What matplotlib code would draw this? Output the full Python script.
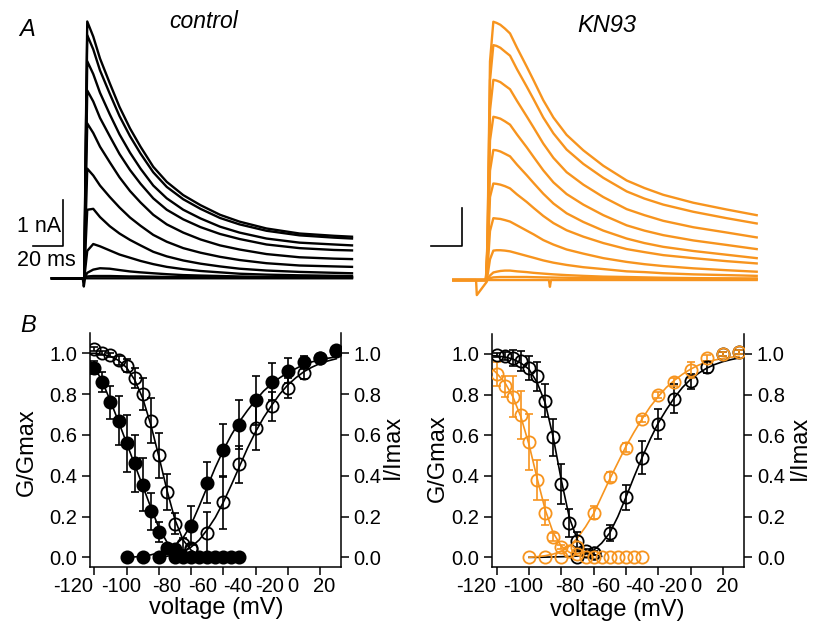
import matplotlib
matplotlib.use('Agg')
import matplotlib.pyplot as plt
from matplotlib.transforms import ScaledTranslation

plt.rcParams['font.family'] = ['Liberation Sans', 'DejaVu Sans']

ORANGE = '#F7941E'

# ---- panel A: current traces (time in ms, current in nA) ----
ctrl_t = [0, 21.5, 22.5, 23.5, 27.5, 32, 38.5, 45, 52, 59, 67.5, 76.5, 87.5, 99, 112, 125, 143, 165, 188, 200]
ctrl_traces = [
    [0, 0, 3.1, 5.62, 5.29, 4.81, 4.27, 3.75, 3.28, 2.88, 2.44, 2.11, 1.82, 1.60, 1.39, 1.24, 1.09, 0.98, 0.93, 0.91],
    [0, 0, 2.9, 5.32, 5.01, 4.55, 4.04, 3.55, 3.11, 2.73, 2.32, 2.00, 1.73, 1.52, 1.32, 1.18, 1.04, 0.94, 0.89, 0.87],
    [0, 0, 2.6, 4.75, 4.47, 4.06, 3.59, 3.15, 2.75, 2.40, 2.03, 1.75, 1.50, 1.31, 1.13, 1.00, 0.87, 0.78, 0.74, 0.72],
    [0, 0, 2.3, 4.11, 3.87, 3.51, 3.11, 2.72, 2.37, 2.07, 1.75, 1.50, 1.29, 1.12, 0.97, 0.86, 0.74, 0.66, 0.62, 0.61],
    [0, 0, 1.9, 3.39, 3.18, 2.88, 2.54, 2.21, 1.91, 1.66, 1.39, 1.18, 1.00, 0.85, 0.72, 0.63, 0.53, 0.46, 0.43, 0.42],
    [0, 0, 1.3, 2.40, 2.25, 2.03, 1.78, 1.55, 1.33, 1.15, 0.95, 0.80, 0.66, 0.56, 0.47, 0.40, 0.33, 0.28, 0.26, 0.25],
    [0, 0, 0.8, 1.50, 1.52, 1.34, 1.14, 0.98, 0.84, 0.72, 0.58, 0.48, 0.39, 0.32, 0.26, 0.21, 0.17, 0.14, 0.12, 0.11],
    [0, 0, 0.3, 0.60, 0.75, 0.70, 0.61, 0.52, 0.45, 0.38, 0.31, 0.25, 0.20, 0.16, 0.13, 0.10, 0.08, 0.065, 0.055, 0.05],
    [0, 0, 0.06, 0.12, 0.19, 0.22, 0.21, 0.18, 0.15, 0.13, 0.11, 0.09, 0.07, 0.06, 0.05, 0.04, 0.03, 0.025, 0.02, 0.02],
    [0, 0, 0.02, 0.04, 0.05, 0.05, 0.05, 0.045, 0.04, 0.04, 0.035, 0.03, 0.03, 0.03, 0.025, 0.02, 0.02, 0.02, 0.02, 0.02],
]
ctrl_base_t = [0, 20.5, 21.2, 22, 200]
ctrl_base_i = [0, 0, -0.18, 0, 0]

kn_t = [0, 21.5, 22.5, 24.2, 26.4, 28.5, 31, 34, 37.4, 42, 48.4, 53, 59.3, 66, 74.7, 85.7,
        98.9, 114.3, 126, 138.4, 158.2, 180.2, 200]
kn_traces = [
    [0, 0, 1.0, 5.8, 6.85, 6.82, 6.77, 6.67, 6.54, 6.16, 5.66, 5.29, 4.77, 4.31, 3.85, 3.44, 3.03, 2.64, 2.44, 2.26, 2.05, 1.87, 1.72],
    [0, 0, 0.9, 5.3, 6.23, 6.21, 6.16, 6.06, 5.95, 5.59, 5.13, 4.79, 4.31, 3.89, 3.46, 3.08, 2.71, 2.35, 2.16, 2.00, 1.81, 1.64, 1.50],
    [0, 0, 0.8, 4.5, 5.31, 5.29, 5.25, 5.16, 5.06, 4.75, 4.34, 4.04, 3.62, 3.24, 2.86, 2.53, 2.20, 1.88, 1.72, 1.57, 1.40, 1.26, 1.13],
    [0, 0, 0.65, 3.7, 4.33, 4.31, 4.28, 4.21, 4.12, 3.86, 3.52, 3.26, 2.91, 2.59, 2.28, 2.00, 1.72, 1.45, 1.31, 1.19, 1.05, 0.93, 0.82],
    [0, 0, 0.5, 2.9, 3.45, 3.44, 3.41, 3.35, 3.28, 3.06, 2.78, 2.57, 2.29, 2.03, 1.77, 1.54, 1.31, 1.10, 0.98, 0.88, 0.77, 0.67, 0.58],
    [0, 0, 0.4, 2.2, 2.56, 2.55, 2.53, 2.49, 2.43, 2.27, 2.07, 1.91, 1.70, 1.51, 1.32, 1.15, 0.98, 0.82, 0.74, 0.66, 0.58, 0.50, 0.44],
    [0, 0, 0.25, 1.3, 1.64, 1.63, 1.62, 1.59, 1.55, 1.45, 1.31, 1.21, 1.06, 0.94, 0.81, 0.70, 0.58, 0.48, 0.42, 0.37, 0.31, 0.26, 0.22],
    [0, 0, 0.1, 0.55, 0.78, 0.79, 0.79, 0.78, 0.76, 0.71, 0.64, 0.59, 0.52, 0.46, 0.40, 0.34, 0.29, 0.23, 0.21, 0.18, 0.15, 0.13, 0.11],
    [0, 0, 0.03, 0.12, 0.20, 0.22, 0.24, 0.25, 0.25, 0.23, 0.21, 0.19, 0.17, 0.15, 0.13, 0.11, 0.09, 0.08, 0.07, 0.06, 0.05, 0.045, 0.04],
    [0, 0, 0.02, 0.05, 0.07, 0.075, 0.08, 0.08, 0.08, 0.08, 0.08, 0.075, 0.07, 0.065, 0.06, 0.05, 0.05, 0.04, 0.04, 0.035, 0.03, 0.03, 0.03],
]
kn_base_t = [0, 15.0, 15.5, 22.0, 22.5, 63.0, 63.7, 64.4, 200]
kn_base_i = [0, 0, -0.4, -0.05, 0, 0, -0.18, 0, 0]

# ---- panel B: G/Gmax and I/Imax vs voltage ----
v_inact_full = [-120, -115, -110, -105, -100, -95, -90, -85, -80, -75, -70, -65, -60, -55, -50, -45, -40, -35, -30]
v_inact_short = [-120, -115, -110, -105, -100, -95, -90, -85, -80, -75, -70, -65, -60]
v_act_long = [-100, -90, -80, -70, -60, -50, -40, -30, -20, -10, 0, 10, 20, 30]
v_act_open = [-60, -50, -40, -30, -20, -10, 0, 10, 20, 30]
v_act_black = [-70, -60, -50, -40, -30, -20, -10, 0, 10, 20, 30]

# control: filled and open circles
ctrl_filled_inact = [0.93, 0.86, 0.76, 0.67, 0.56, 0.46, 0.355, 0.225, 0.125, 0.045, 0, 0, 0, 0, 0, 0, 0, 0, 0]
ctrl_filled_inact_err = [0.03, 0.05, 0.08, 0.12, 0.14, 0.14, 0.13, 0.09, 0.05, 0.02, 0, 0, 0, 0, 0, 0, 0, 0, 0]
ctrl_open_inact = [1.02, 1.0, 0.99, 0.965, 0.94, 0.88, 0.80, 0.67, 0.50, 0.32, 0.165, 0.065, 0.04]
ctrl_open_inact_err = [0.01, 0.01, 0.01, 0.02, 0.03, 0.05, 0.08, 0.11, 0.11, 0.09, 0.05, 0.03, 0]
ctrl_filled_act = [0, 0, 0, 0.04, 0.155, 0.365, 0.525, 0.65, 0.77, 0.86, 0.915, 0.955, 0.975, 1.015]
ctrl_filled_act_err = [0, 0, 0, 0.01, 0.095, 0.1, 0.13, 0.12, 0.12, 0.09, 0.06, 0.03, 0.01, 0.02]
ctrl_open_act = [0.045, 0.118, 0.27, 0.455, 0.635, 0.74, 0.83, 0.905, 0.975, 1.01]
ctrl_open_act_err = [0, 0.105, 0.13, 0.09, 0.11, 0.07, 0.05, 0.03, 0.01, 0.01]

# KN93 panel: black open and orange open circles
kn_black_inact = [0.995, 0.99, 0.98, 0.965, 0.93, 0.89, 0.77, 0.59, 0.36, 0.17, 0.08, 0.03, 0.02]
kn_black_inact_err = [0.01, 0.02, 0.04, 0.05, 0.06, 0.07, 0.08, 0.09, 0.1, 0.07, 0.045, 0.01, 0]
kn_black_act = [0.0, 0.02, 0.12, 0.295, 0.49, 0.655, 0.78, 0.865, 0.935, 1.0, 1.01]
kn_black_act_err = [0, 0.01, 0.04, 0.06, 0.08, 0.075, 0.07, 0.035, 0.03, 0.01, 0.01]
kn_orange_inact = [0.90, 0.84, 0.79, 0.70, 0.567, 0.38, 0.22, 0.10, 0.05, 0.03, 0.015, 0, 0, 0, 0, 0, 0, 0, 0]
kn_orange_inact_err = [0.06, 0.05, 0.1, 0.12, 0.14, 0.1, 0.06, 0.02, 0.01, 0, 0, 0, 0, 0, 0, 0, 0, 0, 0]
kn_orange_act = [0, 0, 0, 0.05, 0.22, 0.395, 0.54, 0.68, 0.80, 0.86, 0.92, 0.98, 1.0, 1.01]
kn_orange_act_err = [0, 0, 0, 0, 0.03, 0.025, 0.02, 0.015, 0.015, 0.02, 0.04, 0.015, 0.01, 0.01]

# fitted curves
fit_v_inact = [-122.5, -120, -115, -110, -105, -100, -95, -90, -85, -80, -75, -70, -65, -60, -55]
fit_v_act = [-100, -95, -90, -85, -80, -75, -70, -65, -60, -55, -50, -45, -40, -35, -30,
             -25, -20, -15, -10, -5, 0, 5, 10, 15, 20, 25, 30]
fit_ctrl_filled_inact = [0.96, 0.935, 0.86, 0.765, 0.665, 0.56, 0.455, 0.35, 0.245, 0.145, 0.075, 0.035, 0.015, 0.006]
fit_ctrl_open_inact = [1.0, 1.0, 0.995, 0.985, 0.965, 0.93, 0.87, 0.78, 0.65, 0.495, 0.33, 0.185, 0.085, 0.035, 0.012]
fit_ctrl_filled_act = [0.0, 0.002, 0.005, 0.012, 0.022, 0.038, 0.06, 0.095, 0.16, 0.25, 0.345, 0.44, 0.525, 0.6,
                       0.665, 0.72, 0.77, 0.815, 0.85, 0.88, 0.905, 0.925, 0.945, 0.958, 0.968, 0.976, 0.982]
fit_ctrl_open_act = [0.0, 0.005, 0.012, 0.025, 0.05, 0.085, 0.135, 0.195, 0.27, 0.355, 0.445, 0.535, 0.615,
                     0.685, 0.745, 0.8, 0.845, 0.88, 0.91, 0.932, 0.95, 0.963, 0.973]
fit_kn_black_inact = [0.992, 0.99, 0.985, 0.975, 0.955, 0.925, 0.86, 0.76, 0.59, 0.38, 0.195, 0.085, 0.035, 0.013, 0.005]
fit_kn_orange_inact = [0.925, 0.905, 0.86, 0.79, 0.69, 0.555, 0.39, 0.235, 0.12, 0.055, 0.025, 0.01, 0.004, 0.0]
fit_kn_black_act = [0.0, 0.0, 0.001, 0.002, 0.003, 0.004, 0.006, 0.015, 0.035, 0.07, 0.12, 0.2, 0.295, 0.395,
                    0.49, 0.58, 0.66, 0.725, 0.785, 0.835, 0.875, 0.905, 0.93, 0.948, 0.962, 0.972, 0.98]
fit_kn_orange_act = [0.0, 0.003, 0.008, 0.016, 0.03, 0.055, 0.095, 0.15, 0.215, 0.3, 0.385, 0.465, 0.545, 0.615,
                     0.68, 0.74, 0.79, 0.835, 0.87, 0.9, 0.925, 0.945, 0.96, 0.97, 0.978, 0.984, 0.988]

xticks = [-120, -100, -80, -60, -40, -20, 0, 20]
xtick_labels = ['-120', '-100', '-80', '-60', '-40', '-20', '0', '20']
xtick_shift_px = [-21, -5.5, 8, 12, 14, 14, 5, 4]   # labels are spread out in the original
yticks = [0.0, 0.2, 0.4, 0.6, 0.8, 1.0]
ytick_labels = ['0.0', '0.2', '0.4', '0.6', '0.8', '1.0']

W, H = 819, 625
fig = plt.figure(figsize=(W / 100, H / 100), dpi=100)


def px_axes(x0, y0, x1, y1):
    # axes from pixel box (top-left origin)
    return fig.add_axes([x0 / W, 1 - y1 / H, (x1 - x0) / W, (y1 - y0) / H])


# ---------- A: traces ----------
axA1 = px_axes(0, 0, 410, 300)
axA1.set_xlim(-34.67, 238.67)
axA1.set_ylim(-0.475, 6.09)
axA1.axis('off')
axA1.plot(ctrl_base_t, ctrl_base_i, color='black', lw=1.7)
for tr in ctrl_traces[::-1]:
    axA1.plot(ctrl_t, tr, color='black', lw=1.7, solid_joinstyle='round')
# scale bar 20 ms / 1 nA
sb_t, sb_i = 7.33, 0.713
axA1.plot([sb_t - 20, sb_t, sb_t], [sb_i, sb_i, sb_i + 1], color='black', lw=1.2)
axA1.text(sb_t - 1, sb_i + 0.42, '1 nA', ha='right', va='center', fontsize=15.5)
axA1.text(sb_t - 11, sb_i - 0.33, '20 ms', ha='center', va='center', fontsize=15.5)

axA2 = px_axes(410, 0, 819, 300)
axA2.set_xlim(-28.54, 241.07)
axA2.set_ylim(-0.53, 7.427)
axA2.axis('off')
axA2.plot(kn_base_t, kn_base_i, color=ORANGE, lw=1.7)
for tr in kn_traces[::-1]:
    axA2.plot(kn_t, tr, color=ORANGE, lw=1.7, solid_joinstyle='round')
sb2_t, sb2_i = 5.5, 0.90
axA2.plot([sb2_t - 20, sb2_t, sb2_t], [sb2_i, sb2_i, sb2_i + 1], color='black', lw=1.2)

fig.text(204 / W, 1 - 22 / H, 'control', ha='center', va='center', fontsize=16.5, style='italic')
fig.text(607 / W, 1 - 25 / H, 'KN93', ha='center', va='center', fontsize=17, style='italic')
fig.text(27 / W, 1 - 29 / H, 'A', ha='center', va='center', fontsize=17, style='italic')
fig.text(28 / W, 1 - 325 / H, 'B', ha='center', va='center', fontsize=17, style='italic')


# ---------- B: voltage dependence ----------
def style_axes(ax, xlim):
    ax.set_xlim(*xlim)
    ax.set_ylim(-0.046, 1.098)
    ax.spines['top'].set_visible(False)
    for s in ['left', 'right', 'bottom']:
        ax.spines[s].set_linewidth(1.1)
    ax.set_xticks(xticks)
    ax.set_xticklabels(xtick_labels)
    ax.set_yticks(yticks)
    ax.set_yticklabels(ytick_labels)
    ax.tick_params(axis='both', direction='out', length=5.5, width=1.1, labelsize=14.5)
    ax.tick_params(axis='x', pad=2)
    ax.tick_params(axis='y', left=True, right=True, labelleft=True, labelright=True, pad=3.5)
    for lab, dx in zip(ax.get_xticklabels(), xtick_shift_px):
        lab.set_transform(lab.get_transform() + ScaledTranslation(dx / 100, 0, fig.dpi_scale_trans))


def draw_points(ax, v, y, err, color, filled):
    ev = [a for a, e in zip(v, err) if e > 0]
    ey = [b for b, e in zip(y, err) if e > 0]
    ee = [e for e in err if e > 0]
    ax.errorbar(ev, ey, yerr=ee, fmt='none', ecolor=color, elinewidth=1.2,
                capsize=3.2, capthick=1.2, zorder=3)
    ax.plot(v, y, 'o', ms=8.8, mec=color, mew=1.3,
            mfc=color if filled else 'none', zorder=4)


axB1 = px_axes(90, 333.3, 341, 566.7)
style_axes(axB1, (-122.7, 33))
axB1.plot(fit_v_inact[:14], fit_ctrl_filled_inact, color='black', lw=1.2, zorder=2)
axB1.plot(fit_v_inact, fit_ctrl_open_inact, color='black', lw=1.2, zorder=2)
axB1.plot(fit_v_act, fit_ctrl_filled_act, color='black', lw=1.2, zorder=2)
axB1.plot(fit_v_act[4:], fit_ctrl_open_act, color='black', lw=1.2, zorder=2)
draw_points(axB1, v_inact_short, ctrl_open_inact, ctrl_open_inact_err, 'black', False)
draw_points(axB1, v_act_open, ctrl_open_act, ctrl_open_act_err, 'black', False)
draw_points(axB1, v_inact_full, ctrl_filled_inact, ctrl_filled_inact_err, 'black', True)
draw_points(axB1, v_act_long, ctrl_filled_act, ctrl_filled_act_err, 'black', True)

axB2 = px_axes(492, 334, 744.3, 566.7)
style_axes(axB2, (-122.9, 33.3))
axB2.plot(fit_v_inact, fit_kn_black_inact, color='black', lw=1.2, zorder=2)
axB2.plot(fit_v_act, fit_kn_black_act, color='black', lw=1.2, zorder=2)
axB2.plot(fit_v_inact[:14], fit_kn_orange_inact, color=ORANGE, lw=1.2, zorder=2)
axB2.plot(fit_v_act, fit_kn_orange_act, color=ORANGE, lw=1.2, zorder=2)
draw_points(axB2, v_inact_short, kn_black_inact, kn_black_inact_err, 'black', False)
draw_points(axB2, v_act_black, kn_black_act, kn_black_act_err, 'black', False)
draw_points(axB2, v_inact_full, kn_orange_inact, kn_orange_inact_err, ORANGE, False)
draw_points(axB2, v_act_long, kn_orange_act, kn_orange_act_err, ORANGE, False)

for xc, yc, txt, rot in [(27, 452, 'G/Gmax', 90), (393, 447, 'I/Imax', 90),
                         (438, 458, 'G/Gmax', 90), (800, 448, 'I/Imax', 90),
                         (216, 608, 'voltage (mV)', 0), (617, 610, 'voltage (mV)', 0)]:
    fig.text(xc / W, 1 - yc / H, txt, ha='center', va='center', rotation=rot, fontsize=17)

fig.savefig('out.png', dpi=100)
